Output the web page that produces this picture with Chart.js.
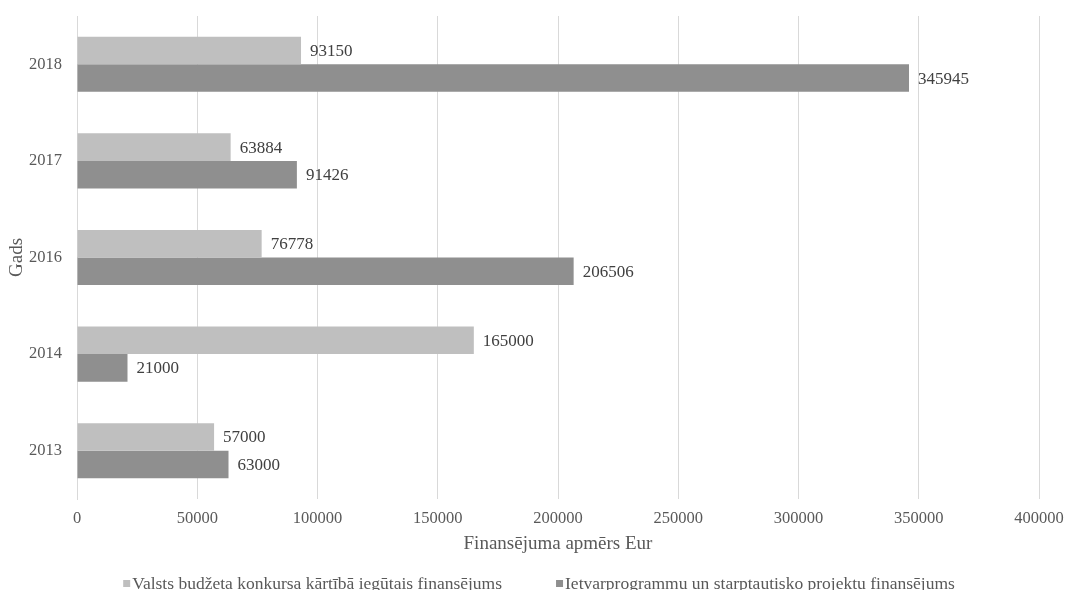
<!DOCTYPE html>
<html>
<head>
<meta charset="utf-8">
<script src="https://cdn.jsdelivr.net/npm/chart.js@4/dist/chart.umd.min.js"></script>
<style>
  html, body { margin: 0; padding: 0; background: #ffffff; overflow: hidden; }
  #wrap { width: 1067px; height: 590px; position: relative; }
</style>
</head>
<body>
<div id="wrap"><canvas id="chart"></canvas></div>
<script>
// Funding per year (EUR)
const years = ['2018', '2017', '2016', '2014', '2013'];
const stateBudgetFunding = [93150, 63884, 76778, 165000, 57000];
const frameworkFunding = [345945, 91426, 206506, 21000, 63000];
const seriesNames = [
  'Valsts budžeta konkursa kārtībā iegūtais finansējums',
  'Ietvarprogrammu un starptautisko projektu finansējums'
];
const xTicks = [0, 50000, 100000, 150000, 200000, 250000, 300000, 350000, 400000];

const SERIF = '"Liberation Serif", "DejaVu Serif", serif';
const LIGHT = '#bfbfbf';
const DARK = '#8f8f8f';
const GRID = '#d9d9d9';

// Writes each bar's value just past its end
const valueLabels = {
  id: 'valueLabels',
  afterDatasetsDraw(chart) {
    const ctx = chart.ctx;
    ctx.save();
    ctx.font = '17px ' + SERIF;
    ctx.fillStyle = '#404040';
    ctx.textAlign = 'left';
    ctx.textBaseline = 'middle';
    chart.data.datasets.forEach((ds, i) => {
      chart.getDatasetMeta(i).data.forEach((bar, j) => {
        ctx.fillText(String(ds.data[j]), bar.x + 9, bar.y + 1);
      });
    });
    ctx.restore();
  }
};

// Legend row along the bottom edge
const bottomLegend = {
  id: 'bottomLegend',
  afterDraw(chart) {
    const ctx = chart.ctx;
    ctx.save();
    ctx.font = '17.5px ' + SERIF;
    ctx.textBaseline = 'alphabetic';
    const box = 7, gapBoxText = 2, gapItems = 54;
    const items = chart.data.datasets.map(ds => ({
      text: ds.label, color: ds.backgroundColor,
      w: box + gapBoxText + ctx.measureText(ds.label).width
    }));
    const total = items.reduce((s, it) => s + it.w, 0) + gapItems * (items.length - 1);
    let x = 539 - total / 2;
    const baseline = 589;
    items.forEach(it => {
      ctx.fillStyle = it.color;
      ctx.fillRect(x, baseline - 9, box, box);
      ctx.fillStyle = '#595959';
      ctx.fillText(it.text, x + box + gapBoxText, baseline);
      x += it.w + gapItems;
    });
    ctx.restore();
  }
};

new Chart(document.getElementById('chart'), {
  type: 'bar',
  data: {
    labels: years,
    datasets: [
      { label: seriesNames[0], data: stateBudgetFunding, backgroundColor: LIGHT },
      { label: seriesNames[1], data: frameworkFunding, backgroundColor: DARK }
    ]
  },
  options: {
    indexAxis: 'y',
    responsive: true,
    maintainAspectRatio: false,
    animation: false,
    layout: { padding: { top: 16, right: 28, bottom: 0, left: 0 } },
    datasets: { bar: { categoryPercentage: 0.57, barPercentage: 1.0 } },
    plugins: {
      legend: { display: false },
      tooltip: { enabled: false }
    },
    scales: {
      x: {
        min: 0,
        max: 400000,
        afterBuildTicks(scale) { scale.ticks = xTicks.map(v => ({ value: v })); },
        afterFit(scale) {
          scale.height = 91;
          scale.paddingLeft = 0;
          scale.paddingRight = 0;
        },
        grid: { color: GRID, lineWidth: 1, drawTicks: false },
        border: { display: false },
        ticks: {
          padding: 10,
          color: '#595959',
          font: { family: SERIF, size: 16.5 },
          maxRotation: 0,
          callback: v => String(v)
        },
        title: {
          display: true,
          text: 'Finansējuma apmērs Eur',
          color: '#595959',
          font: { family: SERIF, size: 19 },
          padding: { top: 0, bottom: 35 }
        }
      },
      y: {
        afterFit(scale) {
          scale.width = 77;
          scale.paddingTop = 0;
          scale.paddingBottom = 0;
        },
        grid: { display: false, drawTicks: false },
        border: { display: true, color: GRID, width: 1 },
        ticks: {
          padding: 15,
          color: '#595959',
          font: { family: SERIF, size: 16.5 }
        },
        title: {
          display: true,
          text: 'Gads',
          color: '#595959',
          font: { family: SERIF, size: 19 },
          padding: { top: 6, bottom: 0 }
        }
      }
    }
  },
  plugins: [valueLabels, bottomLegend]
});
</script>
</body>
</html>
